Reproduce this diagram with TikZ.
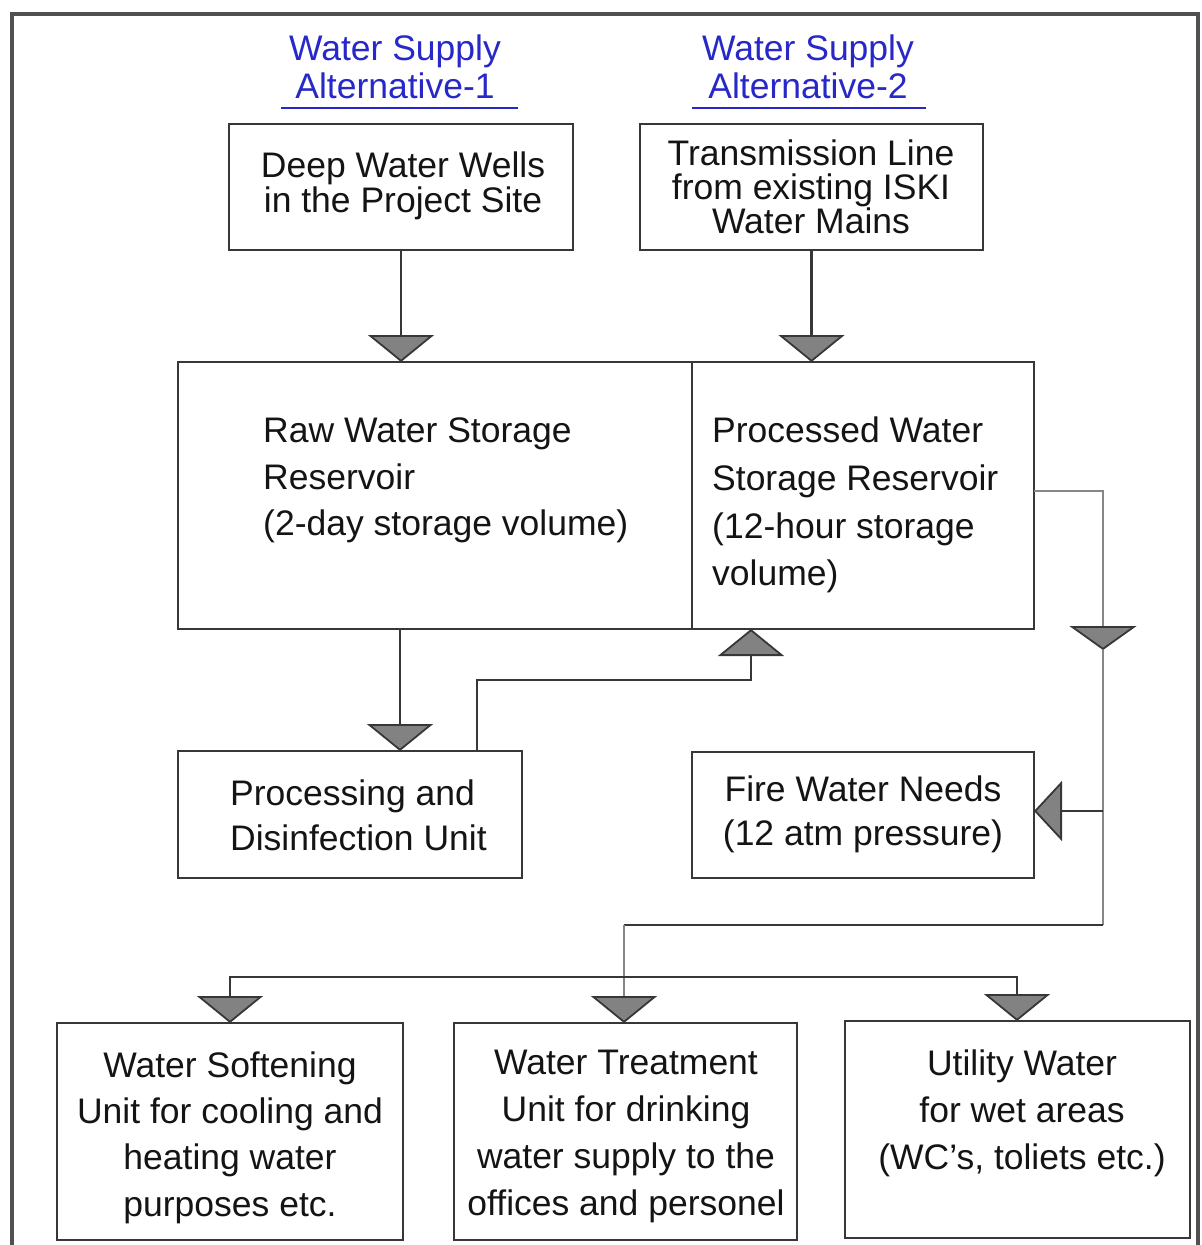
\documentclass[tikz,border=0pt]{standalone}
\usepackage{fontspec}
\setmainfont{Liberation Sans}
\usetikzlibrary{arrows.meta}
\definecolor{linecol}{RGB}{55,55,55}
\definecolor{lightline}{RGB}{135,135,135}
\definecolor{tipfill}{RGB}{130,130,130}
\definecolor{titleblue}{RGB}{40,40,200}
\definecolor{framecol}{RGB}{80,80,80}
\definecolor{textcol}{RGB}{20,20,20}
\begin{document}
\begin{tikzpicture}[x=1pt,y=-1pt,
  box/.style={draw=linecol, line width=2.8pt, inner sep=0pt, outer sep=0pt},
  txt/.style={text=textcol, inner sep=0pt, align=center},
  ttl/.style={text=titleblue, inner sep=0pt, align=center, font=\fontsize{35.5}{38}\selectfont},
  conn/.style={draw=linecol, line width=2.8pt},
  lightconn/.style={draw=lightline, line width=2pt},
  tipdown/.tip={Triangle[width=66pt,length=27pt,fill=tipfill,color=linecol,line width=1.8pt]},
  tipside/.tip={Triangle[width=60pt,length=28pt,fill=tipfill,color=linecol,line width=1.8pt]},
  tipmid/.tip={Triangle[width=67pt,length=24pt,fill=tipfill,color=linecol,line width=1.8pt]},
]
\useasboundingbox (0,0) rectangle (1202,1245);
% outer frame
\draw[framecol, line width=4.5pt] (12,14) rectangle (1198,1262);

% titles
\node[ttl] (title1) at (395,67) {Water Supply\\Alternative-1};
\node[ttl] (title2) at (808,67) {Water Supply\\Alternative-2};
\draw[titleblue, line width=2.5pt] (281,108) -- (518,108);
\draw[titleblue, line width=2.5pt] (692,108) -- (926,108);

% boxes
\node[box, minimum width=344pt, minimum height=126pt] (wells) at (401,187) {};
\node[box, minimum width=343pt, minimum height=126pt] (trans) at (811.5,187) {};
\node[box, minimum width=514pt, minimum height=267pt] (raw) at (435,495.5) {};
\node[box, minimum width=342pt, minimum height=267pt] (proc) at (863,495.5) {};
\node[box, minimum width=344pt, minimum height=127pt] (procunit) at (350,814.5) {};
\node[box, minimum width=342pt, minimum height=126pt] (fire) at (863,815) {};
\node[box, minimum width=346pt, minimum height=217pt] (soft) at (230,1131.5) {};
\node[box, minimum width=343pt, minimum height=217pt] (treat) at (625.5,1131.5) {};
\node[box, minimum width=345pt, minimum height=217pt] (util) at (1017.5,1129.5) {};

% texts
\node[txt, font=\fontsize{35.5}{35}\selectfont] (wellsT) at (403,186) {Deep Water Wells\\in the Project Site};
\node[txt, font=\fontsize{35.5}{34}\selectfont] (transT) at (811,187) {Transmission Line\\from existing ISKI\\Water Mains};
\node[txt, align=left, anchor=west, font=\fontsize{35.5}{46.5}\selectfont] (rawT) at (263,480.5) {Raw Water Storage\\Reservoir\\(2-day storage volume)};
\node[txt, align=left, anchor=west, font=\fontsize{35.5}{47.7}\selectfont] (procT) at (712,505) {Processed Water\\Storage Reservoir\\(12-hour storage\\volume)};
\node[txt, align=left, anchor=west, font=\fontsize{35.5}{45}\selectfont] (procunitT) at (230,815.5) {Processing and\\Disinfection Unit};
\node[txt, font=\fontsize{35.5}{44}\selectfont] (fireT) at (863,814) {Fire Water Needs\\(12 atm pressure)};
\node[txt, font=\fontsize{35.5}{46.3}\selectfont] (softT) at (230,1137.5) {Water Softening\\Unit for cooling and\\heating water\\purposes etc.};
\node[txt, font=\fontsize{35.5}{46.7}\selectfont] (treatT) at (626,1136.5) {Water Treatment\\Unit for drinking\\water supply to the\\offices and personel};
\node[txt, font=\fontsize{35.5}{47}\selectfont] (utilT) at (1022,1113) {Utility Water\\for wet areas\\(WC's, toliets etc.)};

% coordinates for connector bends
\coordinate (m1) at (1103,650);
\coordinate (c2) at (1103,925);
\coordinate (c3) at (624,925);
\coordinate (f1) at (1103,811);
\coordinate (hM) at (624,977);

% supply connectors
\draw[conn, -tipdown] (wells.south) -- (wells.south |- raw.north);
\draw[conn, -tipdown] (trans.south) -- (trans.south |- proc.north);

% raw -> processing unit
\draw[conn, -tipdown] ([xshift=-35pt]raw.south) -- ([xshift=50pt]procunit.north);
% processing unit -> processed reservoir
\draw[conn, -tipdown] ([xshift=127pt]procunit.north) -- ++(0,-71) -| ([xshift=-112pt]proc.south);

% processed reservoir outflow
\draw[lightconn, -tipmid] ([yshift=5pt]proc.east) -| (m1);
\draw[lightconn] (m1) -- (c2);
\draw[conn, -tipside] (f1) -- (f1 -| fire.east);
\draw[conn] (c2) -- (c3);
\draw[lightconn, -tipdown] (c3) -- (c3 |- treat.north);
\draw[conn, -tipdown] (hM) -| (soft.north);
\draw[conn, -tipdown] (hM) -| ([xshift=-0.5pt]util.north);
\end{tikzpicture}
\end{document}
